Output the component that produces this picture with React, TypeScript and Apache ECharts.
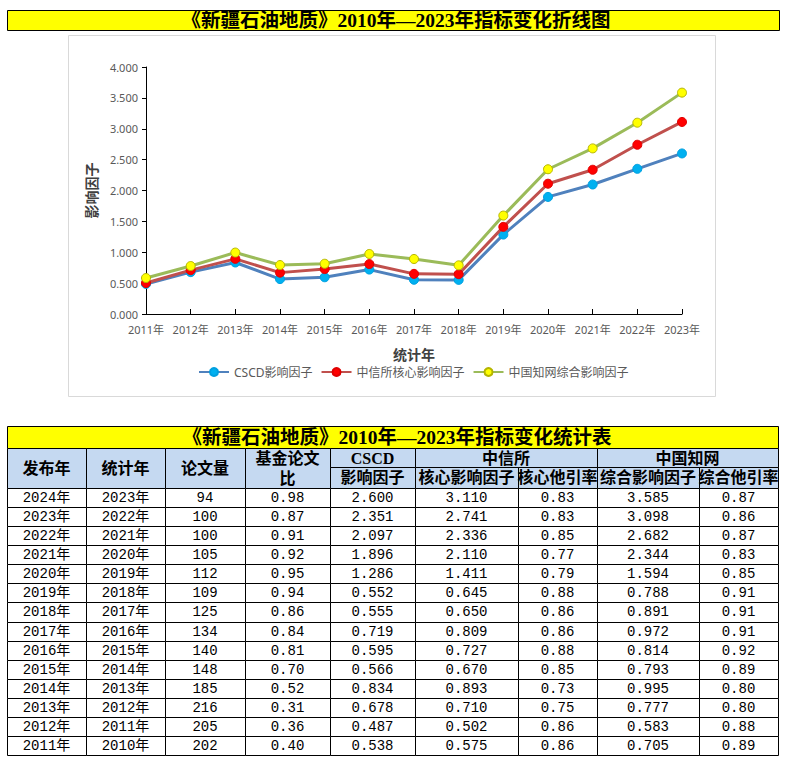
import React, { useEffect, useRef } from 'react';
import * as echarts from 'echarts';

// ---------- data ----------
const pubYears = ['2024年', '2023年', '2022年', '2021年', '2020年', '2019年', '2018年', '2017年', '2016年', '2015年', '2014年', '2013年', '2012年', '2011年'];
const statYears = ['2023年', '2022年', '2021年', '2020年', '2019年', '2018年', '2017年', '2016年', '2015年', '2014年', '2013年', '2012年', '2011年', '2010年'];
const paperCounts = [94, 100, 100, 105, 112, 109, 125, 134, 140, 148, 185, 216, 205, 202];
const fundRatio = [0.98, 0.87, 0.91, 0.92, 0.95, 0.94, 0.86, 0.84, 0.81, 0.70, 0.52, 0.31, 0.36, 0.40];
const cscdIF = [2.600, 2.351, 2.097, 1.896, 1.286, 0.552, 0.555, 0.719, 0.595, 0.566, 0.834, 0.678, 0.487, 0.538];
const isticIF = [3.110, 2.741, 2.336, 2.110, 1.411, 0.645, 0.650, 0.809, 0.727, 0.670, 0.893, 0.710, 0.502, 0.575];
const isticOther = [0.83, 0.83, 0.85, 0.77, 0.79, 0.88, 0.86, 0.86, 0.88, 0.85, 0.73, 0.75, 0.86, 0.86];
const cnkiIF = [3.585, 3.098, 2.682, 2.344, 1.594, 0.788, 0.891, 0.972, 0.814, 0.793, 0.995, 0.777, 0.583, 0.705];
const cnkiOther = [0.87, 0.86, 0.87, 0.83, 0.85, 0.91, 0.91, 0.91, 0.92, 0.89, 0.80, 0.80, 0.88, 0.89];

const chartTitle = '《新疆石油地质》2010年—2023年指标变化折线图';
const tableTitle = '《新疆石油地质》2010年—2023年指标变化统计表';
const seriesNames = ['CSCD影响因子', '中信所核心影响因子', '中国知网综合影响因子'];
const yTicks = { min: 0, max: 4, interval: 0.5 };

// chart uses statistic years 2011..2023 (oldest first)
const chartCount = 13;
const chartCats = statYears.slice(0, chartCount).reverse();
const chartCscd = cscdIF.slice(0, chartCount).reverse();
const chartIstic = isticIF.slice(0, chartCount).reverse();
const chartCnki = cnkiIF.slice(0, chartCount).reverse();

// ---------- layout ----------
const W = 787;
const H = 761;
const colX = [7, 86, 165, 245, 330, 415, 518, 597, 699, 778];
const tTop = 426;
const tTitleBottom = 448;
const h1Bottom = 467;
const h2Bottom = 488;
const tBottom = 755;

const HEADER_FILL = '#C5D9F1';
const YELLOW = '#FFFF00';
const HEAD_FONT = "'Liberation Serif', 'Noto Sans CJK SC', serif";
const DATA_FONT = "'Liberation Mono', 'Noto Sans CJK SC', monospace";
const CHART_FONT = "'Noto Sans', 'Noto Sans CJK SC', sans-serif";

function rect(x0: number, y0: number, x1: number, y1: number, fill: string) {
  return {
    type: 'rect',
    shape: { x: Math.round(x0) + 0.5, y: Math.round(y0) + 0.5, width: Math.round(x1) - Math.round(x0), height: Math.round(y1) - Math.round(y0) },
    style: { fill, stroke: '#000', lineWidth: 1 },
    silent: true,
  };
}

function txt(text: string, cx: number, cy: number, size: number, bold: boolean, family: string) {
  return {
    type: 'text',
    x: cx,
    y: cy,
    silent: true,
    style: {
      text,
      fill: '#000',
      fontSize: size,
      fontWeight: bold ? 'bold' : 'normal',
      fontFamily: family,
      align: 'center',
      verticalAlign: 'middle',
    },
  };
}

function buildGraphics() {
  const g: any[] = [];
  // top title bar
  g.push(rect(7, 10, 779, 30, YELLOW));
  g.push(txt(chartTitle, 396, 20.5, 19.5, true, HEAD_FONT));
  // chart frame
  g.push({
    type: 'rect',
    shape: { x: 68.5, y: 35.5, width: 647, height: 361 },
    style: { fill: 'transparent', stroke: '#D9D9D9', lineWidth: 1 },
    silent: true,
    z: -1,
  });

  // table title
  g.push(rect(colX[0], tTop, colX[9], tTitleBottom, YELLOW));
  g.push(txt(tableTitle, 397, (tTop + tTitleBottom) / 2 + 0.5, 19.5, true, HEAD_FONT));

  // headers spanning two rows
  const spanHeads = ['发布年', '统计年', '论文量'];
  spanHeads.forEach((h, i) => {
    g.push(rect(colX[i], tTitleBottom, colX[i + 1], h2Bottom, HEADER_FILL));
    g.push(txt(h, (colX[i] + colX[i + 1]) / 2, (tTitleBottom + h2Bottom) / 2, 16, true, HEAD_FONT));
  });
  // 基金论文比 (wrapped)
  g.push(rect(colX[3], tTitleBottom, colX[4], h2Bottom, HEADER_FILL));
  g.push(txt('基金论文', (colX[3] + colX[4]) / 2, 458, 16, true, HEAD_FONT));
  g.push(txt('比', (colX[3] + colX[4]) / 2, 478, 16, true, HEAD_FONT));
  // CSCD
  g.push(rect(colX[4], tTitleBottom, colX[5], h1Bottom, HEADER_FILL));
  g.push(txt('CSCD', (colX[4] + colX[5]) / 2, (tTitleBottom + h1Bottom) / 2 + 0.5, 16, true, HEAD_FONT));
  g.push(rect(colX[4], h1Bottom, colX[5], h2Bottom, HEADER_FILL));
  g.push(txt('影响因子', (colX[4] + colX[5]) / 2, (h1Bottom + h2Bottom) / 2, 16, true, HEAD_FONT));
  // 中信所 / 中国知网
  g.push(rect(colX[5], tTitleBottom, colX[7], h1Bottom, HEADER_FILL));
  g.push(txt('中信所', (colX[5] + colX[7]) / 2, (tTitleBottom + h1Bottom) / 2 + 0.5, 16, true, HEAD_FONT));
  g.push(rect(colX[7], tTitleBottom, colX[9], h1Bottom, HEADER_FILL));
  g.push(txt('中国知网', (colX[7] + colX[9]) / 2, (tTitleBottom + h1Bottom) / 2 + 0.5, 16, true, HEAD_FONT));
  const subHeads = ['核心影响因子', '核心他引率', '综合影响因子', '综合他引率'];
  subHeads.forEach((h, k) => {
    const i = 5 + k;
    g.push(rect(colX[i], h1Bottom, colX[i + 1], h2Bottom, HEADER_FILL));
    g.push(txt(h, (colX[i] + colX[i + 1]) / 2, (h1Bottom + h2Bottom) / 2, 16, true, HEAD_FONT));
  });

  // data rows
  const n = pubYears.length;
  const rowH = (tBottom - h2Bottom) / n;
  for (let r = 0; r < n; r++) {
    const y0 = h2Bottom + r * rowH;
    const y1 = y0 + rowH;
    const cells = [
      pubYears[r],
      statYears[r],
      String(paperCounts[r]),
      fundRatio[r].toFixed(2),
      cscdIF[r].toFixed(3),
      isticIF[r].toFixed(3),
      isticOther[r].toFixed(2),
      cnkiIF[r].toFixed(3),
      cnkiOther[r].toFixed(2),
    ];
    cells.forEach((c, i) => {
      g.push(rect(colX[i], y0, colX[i + 1], y1, '#FFFFFF'));
      g.push(txt(c, (colX[i] + colX[i + 1]) / 2, (y0 + y1) / 2 + 0.5, 14, false, DATA_FONT));
    });
  }
  return g;
}

export default function App() {
  const ref = useRef<HTMLDivElement>(null);
  useEffect(() => {
    document.body.style.margin = '0';
    const chart = echarts.init(ref.current!, null, { renderer: 'svg' });
    const lineColors = ['#4F81BD', '#C0504D', '#9BBB59'];
    const markColors = ['#00B0F0', '#FF0000', '#FFFF00'];
    const markBorders = ['#00A0E0', '#E00000', '#B5B500'];
    const datas = [chartCscd, chartIstic, chartCnki];
    const option: any = {
      animation: false,
      backgroundColor: '#FFFFFF',
      textStyle: { fontFamily: CHART_FONT },
      grid: { left: 146, right: W - 682, top: 67, bottom: H - 314, containLabel: false },
      legend: {
        left: 193,
        top: 361,
        itemWidth: 30,
        itemHeight: 10,
        itemGap: 8,
        textStyle: { color: '#595959', fontSize: 12, fontFamily: CHART_FONT },
        data: seriesNames,
      },
      xAxis: {
        type: 'category',
        boundaryGap: false,
        data: chartCats,
        name: '统计年',
        nameLocation: 'middle',
        nameGap: 33,
        nameTextStyle: { color: '#404040', fontSize: 14, fontWeight: 'bold', fontFamily: CHART_FONT },
        axisLine: { lineStyle: { color: '#000', width: 1 } },
        axisTick: { inside: true, length: 5, lineStyle: { color: '#000' }, alignWithLabel: true },
        axisLabel: { color: '#595959', fontSize: 11, margin: 10, interval: 0, fontFamily: CHART_FONT },
        splitLine: { show: false },
      },
      yAxis: {
        type: 'value',
        min: yTicks.min,
        max: yTicks.max,
        interval: yTicks.interval,
        name: '影响因子',
        nameLocation: 'middle',
        nameGap: 47,
        nameRotate: 90,
        nameTextStyle: { color: '#404040', fontSize: 14, fontWeight: 'bold', fontFamily: CHART_FONT },
        axisLine: { show: true, lineStyle: { color: '#000', width: 1 } },
        axisTick: { show: true, inside: false, length: 4, lineStyle: { color: '#000' } },
        axisLabel: { color: '#595959', fontSize: 11, margin: 8, formatter: (v: number) => v.toFixed(3), fontFamily: CHART_FONT },
        splitLine: { show: false },
      },
      series: seriesNames.map((name, i) => ({
        name,
        type: 'line',
        data: datas[i],
        symbol: 'circle',
        symbolSize: 9,
        showSymbol: true,
        lineStyle: { color: lineColors[i], width: 3 },
        itemStyle: { color: markColors[i], borderColor: markBorders[i], borderWidth: 1 },
        z: 3 + i,
      })),
      graphic: buildGraphics(),
    };
    chart.setOption(option);
    return () => chart.dispose();
  }, []);
  return <div ref={ref} style={{ width: W, height: H }} />;
}
